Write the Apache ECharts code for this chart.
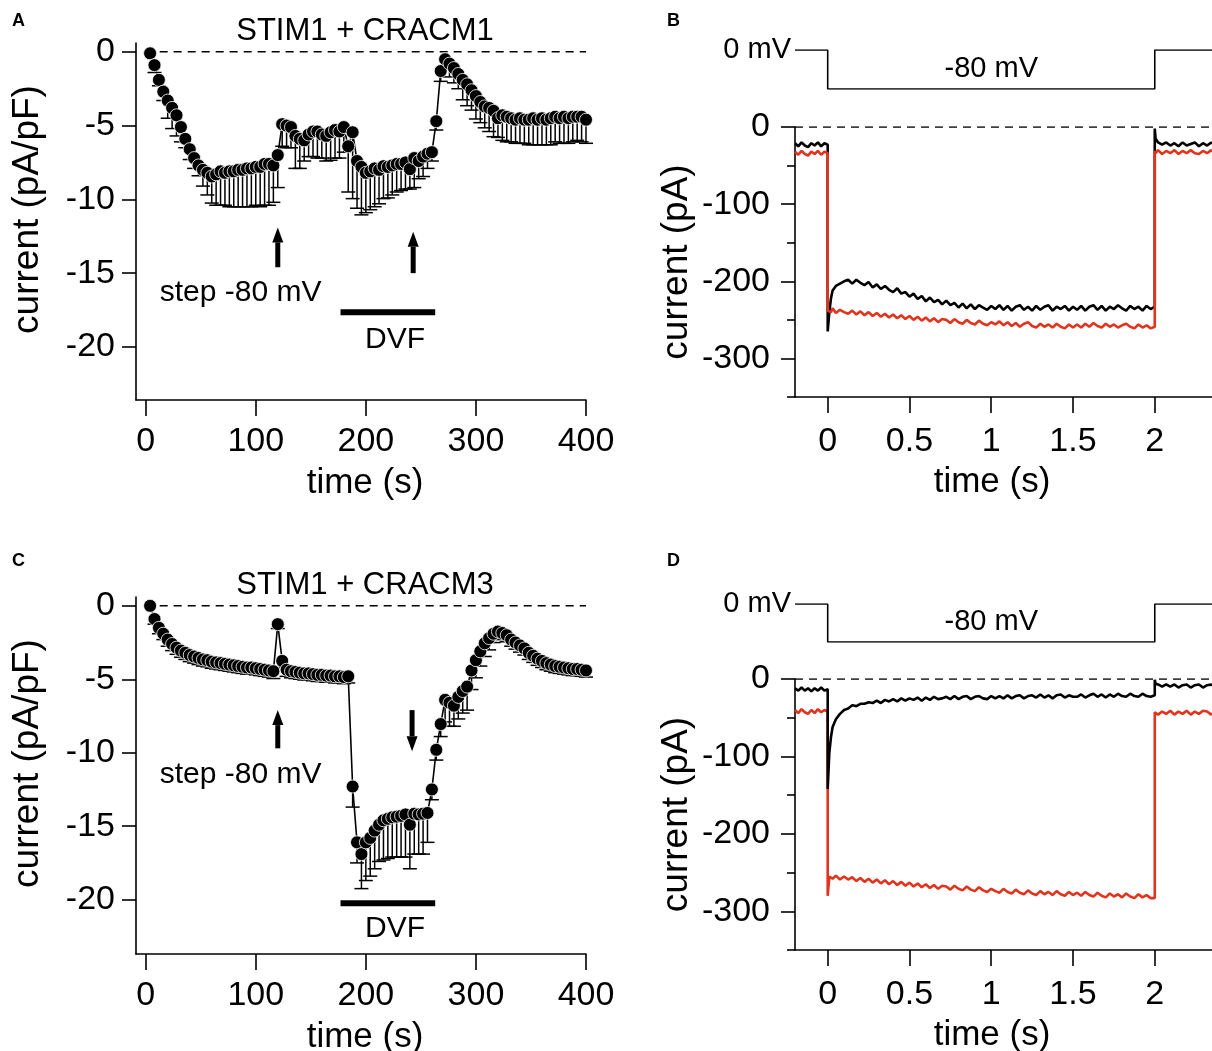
<!DOCTYPE html>
<html>
<head>
<meta charset="utf-8">
<title>STIM1 + CRACM1 / CRACM3</title>
<script src="https://cdn.jsdelivr.net/npm/echarts@6/dist/echarts.min.js"></script>
<style>
html, body { margin: 0; padding: 0; background: #fff; }
#main { width: 1212px; height: 1051px; }
</style>
</head>
<body>
<div id="main"></div>
<script>
// averaged current density (panels A and C), one point every 4 s
const timeAvg = [4,8,12,16,20,24,28,32,36,40,44,48,52,56,60,64,68,72,76,80,
  84,88,92,96,100,104,108,112,116,120,124,128,132,136,140,144,148,152,156,160,
  164,168,172,176,180,184,188,192,196,200,204,208,212,216,220,224,228,232,236,240,
  244,248,252,256,260,264,268,272,276,280,284,288,292,296,300,304,308,312,316,320,
  324,328,332,336,340,344,348,352,356,360,364,368,372,376,380,384,388,392,396,400];

const meanA = [-0.1,-0.9,-1.9,-2.7,-3.3,-3.8,-4.3,-5.1,-5.9,-6.6,
  -7.2,-7.7,-8.0,-8.2,-8.45,-8.3,-8.1,-8.2,-8.1,-8.1,
  -8.0,-8.0,-7.9,-7.9,-7.8,-7.8,-7.6,-7.6,-7.7,-7.0,
  -4.9,-5.0,-5.1,-5.7,-5.9,-6.0,-5.6,-5.4,-5.4,-5.6,
  -5.7,-5.45,-5.3,-5.4,-5.1,-6.4,-5.45,-7.4,-7.8,-8.2,
  -8.1,-7.9,-8.0,-7.75,-7.8,-7.7,-7.6,-7.6,-7.5,-7.95,
  -7.2,-7.4,-7.1,-6.9,-6.8,-4.7,-1.3,-0.5,-0.8,-1.1,
  -1.5,-1.9,-2.2,-2.6,-3.0,-3.4,-3.7,-3.8,-4.0,-4.5,
  -4.3,-4.4,-4.5,-4.6,-4.5,-4.6,-4.6,-4.5,-4.6,-4.5,
  -4.6,-4.5,-4.4,-4.5,-4.4,-4.5,-4.4,-4.4,-4.4,-4.6];
const semA = [0,0.5,0.4,0.6,1.2,1.4,1.4,1.0,0.6,0.7,
  0.7,0.7,1.1,1.5,1.8,2.1,2.3,2.2,2.4,2.4,
  2.5,2.5,2.6,2.6,2.6,2.7,2.8,2.8,2.5,2.2,
  1.5,1.5,1.4,2.2,2.0,1.4,1.5,1.7,1.8,1.6,
  1.7,1.9,1.9,1.8,1.7,3.1,4.5,3.2,3.25,2.7,
  2.6,2.6,2.3,2.2,2.1,2.0,1.9,1.8,1.8,1.35,
  2.0,1.2,1.35,1.0,0.6,0.6,0.7,0.6,0.9,1.0,
  1.0,1.35,1.45,1.35,1.55,1.4,1.45,1.6,1.75,1.3,
  1.7,1.7,1.6,1.6,1.7,1.6,1.7,1.8,1.7,1.8,
  1.7,1.8,1.7,1.7,1.8,1.7,1.7,1.6,1.7,1.6];

const meanC = [0.0,-0.9,-1.5,-1.9,-2.3,-2.6,-2.85,-3.05,-3.2,-3.35,
  -3.45,-3.55,-3.65,-3.7,-3.8,-3.85,-3.9,-3.95,-4.0,-4.05,
  -4.1,-4.15,-4.2,-4.2,-4.25,-4.3,-4.35,-4.4,-4.45,-1.25,
  -3.75,-4.35,-4.45,-4.5,-4.55,-4.6,-4.6,-4.65,-4.7,-4.7,
  -4.75,-4.75,-4.8,-4.8,-4.85,-4.8,-12.3,-16.1,-16.9,-16.1,
  -15.8,-15.3,-14.9,-14.6,-14.5,-14.4,-14.35,-14.3,-14.2,-14.9,
  -14.15,-14.2,-14.15,-14.1,-12.5,-9.8,-8.05,-6.4,-6.6,-6.8,
  -6.2,-5.8,-5.5,-4.4,-3.7,-3.1,-2.55,-2.2,-1.9,-1.75,
  -1.85,-2.0,-2.3,-2.5,-2.7,-2.9,-3.2,-3.4,-3.6,-3.75,
  -3.9,-4.0,-4.1,-4.15,-4.2,-4.25,-4.3,-4.3,-4.35,-4.4];
const semC = [0,0.35,0.4,0.4,0.45,0.45,0.45,0.45,0.45,0.45,
  0.45,0.45,0.45,0.45,0.45,0.45,0.45,0.45,0.45,0.45,
  0.45,0.45,0.45,0.45,0.45,0.45,0.45,0.45,0.5,0.3,
  0.45,0.45,0.45,0.45,0.45,0.45,0.45,0.45,0.45,0.45,
  0.45,0.45,0.45,0.45,0.45,0.45,1.4,1.4,2.35,2.6,
  2.6,2.6,2.5,2.7,2.7,2.7,2.75,2.8,2.9,3.0,
  2.75,2.7,2.75,2.0,0.7,0.7,0.85,1.5,1.6,1.4,
  1.5,1.5,1.6,1.3,1.2,1.0,0.9,0.8,0.6,0.45,
  0.45,0.45,0.45,0.45,0.45,0.45,0.45,0.45,0.45,0.45,
  0.45,0.45,0.45,0.45,0.45,0.45,0.45,0.45,0.45,0.45];

// arrows: [time, tail, tip]
const arrowsA = [[120, -14.6, -11.9], [243, -15.0, -12.2]];
const arrowsC = [[120, -9.7, -7.1], [242, -7.1, -9.9]];
const dvfTime = [177, 263];

// current traces (panels B and D)
const traceTime = [-0.2,-0.18,-0.16,-0.14,-0.12,-0.1,-0.08,-0.06,-0.04,-0.02,0,
  0,0.01,0.02,0.03,0.05,0.075,0.1,
  0.125,0.15,0.175,0.2,0.225,0.25,0.275,0.3,0.325,0.35,0.375,0.4,0.425,0.45,0.475,0.5,
  0.525,0.55,0.575,0.6,0.625,0.65,0.675,0.7,0.725,0.75,0.775,0.8,0.825,0.85,0.875,0.9,0.925,0.95,0.975,1,
  1.025,1.05,1.075,1.1,1.125,1.15,1.175,1.2,1.225,1.25,1.275,1.3,1.325,1.35,1.375,1.4,1.425,1.45,1.475,1.5,
  1.525,1.55,1.575,1.6,1.625,1.65,1.675,1.7,1.725,1.75,1.775,1.8,1.825,1.85,1.875,1.9,1.925,1.95,1.975,2,
  2,2.005,2.02,2.045,2.07,2.095,2.12,2.145,2.17,2.195,2.22,2.245,2.27,2.295,2.32,2.345,2.35];

const blackB = [-21,-25,-20,-24,-26,-21,-24,-20,-25,-21,-23,
  -265,-240,-222,-212,-206,-203,-200,
  -198,-203,-198,-202,-205,-201,-208,-204,-210,-206,-211,-214,-209,-216,-214,-220,
  -216,-223,-219,-226,-221,-227,-224,-230,-225,-231,-228,-234,-229,-235,-230,-236,-231,-234,-237,-232,
  -236,-231,-237,-232,-238,-233,-231,-237,-233,-238,-232,-237,-233,-231,-238,-233,-236,-232,-238,-233,
  -237,-232,-238,-233,-231,-237,-232,-238,-233,-236,-231,-235,-238,-232,-236,-233,-238,-232,-236,-233,
  -2,-15,-20,-23,-20,-24,-21,-25,-20,-24,-22,-20,-25,-21,-24,-20,-22];
const redB = [-32,-36,-31,-35,-37,-32,-35,-31,-36,-32,-34,
  -238,-236,-240,-235,-241,-237,-240,
  -242,-238,-243,-239,-244,-240,-245,-241,-246,-242,-247,-243,-248,-244,-249,-245,
  -250,-246,-251,-247,-252,-248,-253,-249,-250,-254,-249,-253,-255,-250,-254,-256,-251,-255,-257,-253,
  -256,-252,-257,-253,-258,-254,-259,-255,-253,-258,-260,-255,-259,-256,-260,-255,-259,-261,-256,-260,
  -256,-260,-255,-259,-254,-258,-260,-255,-259,-256,-260,-257,-255,-259,-261,-256,-260,-257,-261,-259,
  -31,-34,-30,-35,-31,-34,-30,-35,-31,-34,-30,-34,-35,-31,-34,-30,-32];
const blackD = [-12,-15,-11,-15,-12,-16,-12,-15,-11,-15,-13,
  -142,-95,-75,-62,-52,-45,-40,
  -38,-34,-35,-32,-32,-30,-31,-28,-31,-27,-29,-26,-29,-25,-28,-25,
  -27,-24,-28,-24,-27,-23,-26,-25,-23,-26,-22,-26,-23,-22,-26,-23,-22,-25,-26,-22,
  -25,-22,-25,-21,-25,-22,-21,-25,-22,-21,-24,-20,-24,-21,-25,-21,-20,-24,-21,-23,
  -23,-20,-24,-21,-19,-23,-20,-24,-20,-23,-19,-22,-23,-19,-22,-23,-19,-22,-23,-21,
  -1,-6,-7,-10,-7,-10,-7,-11,-8,-7,-11,-8,-7,-11,-8,-7,-9];
const redD = [-40,-44,-39,-43,-45,-40,-44,-39,-43,-40,-42,
  -280,-255,-253,-258,-254,-259,-255,
  -259,-256,-261,-257,-262,-258,-263,-259,-264,-260,-265,-261,-266,-262,-267,-263,
  -268,-264,-269,-265,-270,-266,-271,-267,-268,-272,-267,-271,-273,-268,-272,-274,-269,-273,-275,-271,
  -274,-276,-271,-275,-277,-272,-276,-278,-273,-277,-279,-274,-278,-275,-279,-274,-278,-280,-275,-279,
  -276,-280,-275,-279,-281,-276,-280,-282,-277,-281,-278,-282,-277,-281,-283,-278,-282,-279,-283,-283,
  -43,-41,-46,-42,-45,-41,-46,-42,-45,-41,-46,-42,-45,-41,-42,-46,-44];

// voltage protocol
const stepTime = [-0.2, 0, 0, 2, 2, 2.35];
const stepVolt = [0, 0, -80, -80, 0, 0];

// tick values
const avgTicksX = [0, 100, 200, 300, 400];
const avgTicksY = [0, -5, -10, -15, -20];
const traceTicksX = [0, 0.5, 1, 1.5, 2];
const traceTicksY = [0, -100, -200, -300];
const traceMinorY = [-50, -150, -250, -350];

const font = "'Liberation Sans', Arial, Helvetica, sans-serif";
const ink = '#000';
const red = '#e2341d';

function axisX(grid, min, max, ticks, margin, gap, pad) {
  return {
    type: 'value', gridIndex: grid, min: min, max: max,
    name: 'time (s)', nameLocation: 'middle', nameGap: gap,
    nameTextStyle: { color: ink, fontSize: 35, fontFamily: font, padding: pad },
    axisLine: { show: true, onZero: false, lineStyle: { color: ink, width: 1.6 } },
    axisTick: { show: true, length: 16, customValues: ticks, lineStyle: { color: ink, width: 1.6 } },
    axisLabel: { customValues: ticks, color: ink, fontSize: 34, fontFamily: font, margin: margin },
    splitLine: { show: false }
  };
}

function axisY(grid, min, max, ticks, name, margin, gap, pad) {
  return {
    type: 'value', gridIndex: grid, min: min, max: max,
    name: name, nameLocation: 'middle', nameGap: gap,
    nameTextStyle: { color: ink, fontSize: 37, fontFamily: font, padding: pad },
    axisLine: { show: true, onZero: false, lineStyle: { color: ink, width: 1.6 } },
    axisTick: { show: true, length: 14, customValues: ticks, lineStyle: { color: ink, width: 1.6 } },
    axisLabel: { customValues: ticks, color: ink, fontSize: 34, fontFamily: font, margin: margin },
    splitLine: { show: false }
  };
}

function minorY(grid, min, max) {
  return {
    type: 'value', gridIndex: grid, min: min, max: max, position: 'left',
    axisLine: { show: false, onZero: false },
    axisTick: { show: true, length: 8, customValues: traceMinorY, lineStyle: { color: ink, width: 1.6 } },
    axisLabel: { show: false },
    splitLine: { show: false }
  };
}

function hiddenAxis(grid, min, max) {
  return { type: 'value', gridIndex: grid, min: min, max: max, show: false, axisLine: { onZero: false } };
}

function errorBar(params, api) {
  const t = api.value(0), m = api.value(1), e = api.value(2);
  if (!(e > 0)) return null;
  const top = api.coord([t, m]);
  const bot = api.coord([t, m - e]);
  return {
    type: 'group',
    children: [
      { type: 'line', shape: { x1: top[0], y1: top[1], x2: bot[0], y2: bot[1] }, style: { stroke: ink, lineWidth: 1.5 } },
      { type: 'line', shape: { x1: bot[0] - 7, y1: bot[1], x2: bot[0] + 7, y2: bot[1] }, style: { stroke: ink, lineWidth: 1.5 } }
    ]
  };
}

function arrow(params, api) {
  const tail = api.coord([api.value(0), api.value(1)]);
  const tip = api.coord([api.value(0), api.value(2)]);
  const dir = tip[1] < tail[1] ? -1 : 1;
  const base = tip[1] - dir * 15;
  return {
    type: 'group',
    children: [
      { type: 'rect', shape: { x: tail[0] - 2.5, y: Math.min(tail[1], base), width: 5, height: Math.abs(base - tail[1]) }, style: { fill: ink } },
      { type: 'polygon', shape: { points: [[tip[0], tip[1]], [tip[0] - 5.5, base], [tip[0] + 5.5, base]] }, style: { fill: ink } }
    ]
  };
}

// text anchored to a data point; align 'left' | 'center' | 'right'
function note(xi, yi, point, text, align, size, dx) {
  return {
    type: 'custom', xAxisIndex: xi, yAxisIndex: yi, silent: true, clip: false,
    encode: { x: 0, y: 1 },
    data: [point],
    renderItem: function (params, api) {
      const p = api.coord([api.value(0), api.value(1)]);
      return {
        type: 'text', x: p[0] + (dx || 0), y: p[1],
        style: { text: text, fill: ink, fontSize: size, fontFamily: font, align: align, verticalAlign: 'middle' }
      };
    }
  };
}

function avgSeries(xi, yi, mean, sem, arrows, dvfLevel, stepNote, dvfNote) {
  return [
    { type: 'line', xAxisIndex: xi, yAxisIndex: yi, data: [[0, 0], [400, 0]], symbol: 'none', silent: true,
      lineStyle: { color: ink, width: 1.5, type: [8, 6] } },
    { type: 'custom', xAxisIndex: xi, yAxisIndex: yi, renderItem: errorBar, encode: { x: 0, y: 1 },
      data: timeAvg.map((t, i) => [t, mean[i], sem[i]]) },
    { type: 'line', xAxisIndex: xi, yAxisIndex: yi, data: timeAvg.map((t, i) => [t, mean[i]]),
      symbol: 'circle', symbolSize: 13, showAllSymbol: true,
      itemStyle: { color: ink, borderColor: '#fff', borderWidth: 0.8 },
      lineStyle: { color: ink, width: 1.6 } },
    { type: 'custom', xAxisIndex: xi, yAxisIndex: yi, renderItem: arrow, encode: { x: 0, y: [1, 2] }, data: arrows },
    { type: 'line', xAxisIndex: xi, yAxisIndex: yi, data: dvfTime.map(t => [t, dvfLevel]), symbol: 'none', silent: true,
      lineStyle: { color: ink, width: 6, cap: 'butt' } },
    note(xi, yi, stepNote, 'step -80 mV', 'left', 30, 0),
    note(xi, yi, dvfNote, 'DVF', 'center', 30, 0)
  ];
}

function traceSeries(xi, yi, black, redVals, redOnTop) {
  const zero = { type: 'line', xAxisIndex: xi, yAxisIndex: yi, data: [[-0.2, 0], [2.35, 0]], symbol: 'none', silent: true,
    lineStyle: { color: ink, width: 1.5, type: [8, 6] } };
  const b = { type: 'line', xAxisIndex: xi, yAxisIndex: yi, data: traceTime.map((t, i) => [t, black[i]]),
    symbol: 'none', lineStyle: { color: ink, width: 2.6 } };
  const r = { type: 'line', xAxisIndex: xi, yAxisIndex: yi, data: traceTime.map((t, i) => [t, redVals[i]]),
    symbol: 'none', lineStyle: { color: red, width: 2.6 } };
  return redOnTop ? [zero, b, r] : [zero, r, b];
}

function stepSeries(xi, yi) {
  return [
    { type: 'line', xAxisIndex: xi, yAxisIndex: yi, data: stepTime.map((t, i) => [t, stepVolt[i]]),
      symbol: 'none', lineStyle: { color: ink, width: 1.6 } },
    note(xi, yi, [-0.2, 0], '0 mV', 'right', 29, -4),
    note(xi, yi, [1, -38], '-80 mV', 'center', 29, 0)
  ];
}

const chart = echarts.init(document.getElementById('main'));
chart.setOption({
  animation: false,
  backgroundColor: '#fff',
  textStyle: { fontFamily: font },
  grid: [
    { left: 136, top: 43, width: 450, height: 357, outerBoundsMode: 'none' },   // A
    { left: 136, top: 597, width: 450, height: 357, outerBoundsMode: 'none' },  // C
    { left: 795, top: 127, width: 417, height: 270, outerBoundsMode: 'none' },  // B
    { left: 795, top: 679, width: 417, height: 271, outerBoundsMode: 'none' },  // D
    { left: 795, top: 50, width: 417, height: 39, outerBoundsMode: 'none' },    // B protocol
    { left: 795, top: 604, width: 417, height: 38, outerBoundsMode: 'none' }    // D protocol
  ],
  xAxis: [
    axisX(0, -8.8, 400, avgTicksX, 25, 66, [0, 0, 0, 8]),
    axisX(1, -8.8, 400, avgTicksX, 25, 66, [0, 0, 0, 8]),
    axisX(2, -0.2, 2.35, traceTicksX, 28, 68, [0, 23, 0, 0]),
    axisX(3, -0.2, 2.35, traceTicksX, 28, 68, [0, 23, 0, 0]),
    hiddenAxis(4, -0.2, 2.35),
    hiddenAxis(5, -0.2, 2.35)
  ],
  yAxis: [
    axisY(0, -23.6, 0.6, avgTicksY, 'current (pA/pF)', 21, 90, [0, 0, 0, 24]),
    axisY(1, -23.7, 0.6, avgTicksY, 'current (pA/pF)', 21, 90, [0, 0, 0, 24]),
    axisY(2, -350, 0, traceTicksY, 'current (pA)', 25, 100, [0, 0, 0, 0]),
    axisY(3, -350, 0, traceTicksY, 'current (pA)', 25, 100, [0, 0, 0, 0]),
    minorY(2, -350, 0),
    minorY(3, -350, 0),
    hiddenAxis(4, -80, 0),
    hiddenAxis(5, -80, 0)
  ],
  graphic: [
    { type: 'text', x: 12, y: 21, style: { text: 'A', fontSize: 18, fontWeight: 'bold', fontFamily: font, fill: ink, verticalAlign: 'middle' } },
    { type: 'text', x: 667, y: 21, style: { text: 'B', fontSize: 18, fontWeight: 'bold', fontFamily: font, fill: ink, verticalAlign: 'middle' } },
    { type: 'text', x: 12, y: 561, style: { text: 'C', fontSize: 18, fontWeight: 'bold', fontFamily: font, fill: ink, verticalAlign: 'middle' } },
    { type: 'text', x: 667, y: 561, style: { text: 'D', fontSize: 18, fontWeight: 'bold', fontFamily: font, fill: ink, verticalAlign: 'middle' } },
    { type: 'text', x: 365, y: 31, style: { text: 'STIM1 + CRACM1', fontSize: 31, fontFamily: font, fill: ink, align: 'center', verticalAlign: 'middle' } },
    { type: 'text', x: 365, y: 585, style: { text: 'STIM1 + CRACM3', fontSize: 31, fontFamily: font, fill: ink, align: 'center', verticalAlign: 'middle' } }
  ],
  series: [].concat(
    avgSeries(0, 0, meanA, semA, arrowsA, -17.66, [12.8, -16.3], [226.6, -19.5]),
    avgSeries(1, 1, meanC, semC, arrowsC, -20.25, [12.8, -11.5], [226.6, -21.95]),
    traceSeries(2, 2, blackB, redB, true),
    traceSeries(3, 3, blackD, redD, false),
    stepSeries(4, 6),
    stepSeries(5, 7)
  )
});
</script>
</body>
</html>
